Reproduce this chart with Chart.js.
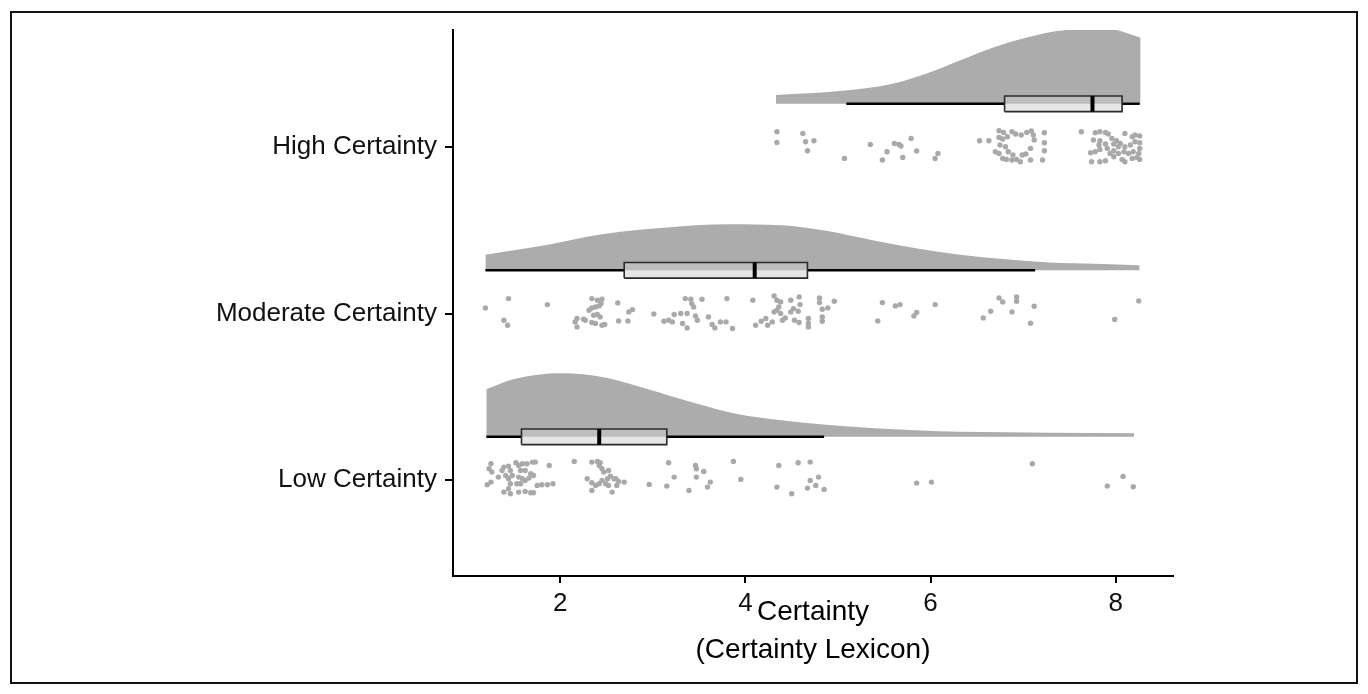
<!DOCTYPE html>
<html>
<head>
<meta charset="utf-8">
<script src="https://cdn.jsdelivr.net/npm/chart.js@4.4.1/dist/chart.umd.min.js"></script>
<style>
    html, body { margin: 0; padding: 0; background: #fff; }
    #wrap { position: relative; width: 1368px; height: 694px; }
    #frame { position: absolute; left: 10px; top: 11px; right: 10px; bottom: 10px; border: 2px solid #111; box-sizing: border-box; pointer-events: none; }
</style>
</head>
<body>
<div id="wrap"><canvas id="chart"></canvas><div id="frame"></div></div>
<script>
// Groups, from bottom to top of the y axis
const categories = ["Low Certainty", "Moderate Certainty", "High Certainty"];
const xTicks = [2, 4, 6, 8];

// Box plot summaries (same order as categories)
const whiskerLow = [1.20, 1.19, 5.09];
const q1 = [1.58, 2.69, 6.80];
const medians = [2.42, 4.10, 7.75];
const q3 = [3.15, 4.67, 8.07];
const whiskerHigh = [4.85, 7.13, 8.26];

// Half violins: x positions and density height above the baseline
const lowViolinX = [1.20, 1.50, 2.01, 2.47, 2.95, 3.43, 3.91, 4.39, 4.87, 5.36, 5.84, 6.32, 6.81, 7.28, 8.20];
const lowViolinH = [0.286, 0.347, 0.381, 0.358, 0.286, 0.206, 0.137, 0.099, 0.072, 0.053, 0.040, 0.030, 0.027, 0.024, 0.022];
const modViolinX = [1.19, 1.74, 2.47, 3.19, 3.82, 4.39, 4.87, 5.36, 5.84, 6.32, 6.81, 7.28, 7.77, 8.26];
const modViolinH = [0.093, 0.141, 0.218, 0.259, 0.276, 0.270, 0.237, 0.182, 0.132, 0.094, 0.066, 0.047, 0.039, 0.030];
const highViolinX = [4.33, 5.05, 5.59, 5.95, 6.31, 6.67, 7.03, 7.39, 7.61, 7.96, 8.11, 8.27];
const highViolinH = [0.052, 0.078, 0.120, 0.180, 0.258, 0.336, 0.396, 0.438, 0.447, 0.447, 0.426, 0.396];

// Raw observations: [value, vertical jitter]
const lowDots = [
    [1.25,0.098],[1.23,0.068],[1.26,0.048],[1.21,-0.028],[1.25,-0.012],[1.33,0.018],[1.37,0.058],[1.39,0.078],[1.44,0.084],[1.46,0.058],
    [1.41,0.028],[1.44,0.008],[1.46,-0.022],[1.44,-0.052],[1.39,-0.072],[1.46,-0.082],[1.52,0.104],[1.55,0.088],[1.59,0.098],[1.64,0.098],
    [1.70,0.108],[1.73,0.108],[1.57,0.058],[1.62,0.058],[1.68,0.038],[1.71,0.028],[1.55,0.018],[1.59,0.008],[1.66,0.012],[1.53,-0.022],
    [1.57,-0.022],[1.62,-0.002],[1.55,-0.072],[1.62,-0.068],[1.68,-0.076],[1.71,-0.076],[1.75,-0.032],[1.80,-0.028],[1.88,0.088],[1.86,-0.028],
    [1.92,-0.022],[1.48,0.028],[2.15,0.112],[2.34,0.108],[2.40,0.112],[2.43,0.104],[2.45,0.068],[2.47,0.048],[2.42,0.088],[2.52,0.058],
    [2.54,0.024],[2.51,0.008],[2.58,0.008],[2.45,-0.002],[2.29,0.008],[2.34,-0.016],[2.38,-0.032],[2.42,-0.022],[2.49,-0.022],[2.52,-0.032],
    [2.63,-0.008],[2.69,-0.012],[2.61,-0.032],[2.56,-0.072],[2.34,-0.062],[2.60,0.008],[2.96,-0.026],[3.15,-0.036],[3.17,0.104],[3.23,0.018],
    [3.39,-0.062],[3.46,0.088],[3.47,0.068],[3.47,0.018],[3.55,0.052],[3.59,-0.042],[3.62,-0.012],[3.87,0.112],[3.95,0.004],[4.36,0.088],
    [4.57,0.104],[4.70,0.108],[4.34,-0.042],[4.50,-0.082],[4.67,-0.048],[4.70,-0.002],[4.76,-0.032],[4.79,0.018],[4.85,-0.056],[5.85,-0.018],
    [6.01,-0.012],[7.10,0.098],[7.91,-0.036],[8.08,0.022],[8.19,-0.040]
];
const modDots = [
    [1.19,0.034],[1.44,0.090],[1.39,-0.040],[1.43,-0.070],[1.86,0.054],[2.34,0.090],[2.40,0.080],[2.45,0.086],[2.44,0.060],[2.34,0.034],
    [2.38,0.040],[2.42,0.046],[2.31,0.020],[2.18,-0.030],[2.16,-0.050],[2.18,-0.080],[2.25,-0.034],[2.27,-0.040],[2.36,-0.010],[2.40,-0.006],
    [2.43,-0.020],[2.34,-0.054],[2.38,-0.060],[2.45,-0.070],[2.48,-0.066],[2.62,0.064],[2.74,0.010],[2.78,0.024],[2.63,-0.044],[2.73,-0.044],
    [3.01,-0.002],[3.12,-0.046],[3.17,-0.040],[3.23,-0.006],[3.21,-0.050],[3.30,0.000],[3.37,0.000],[3.35,0.090],[3.41,0.086],[3.42,0.060],
    [3.44,0.040],[3.53,0.086],[3.46,-0.014],[3.48,-0.040],[3.60,-0.020],[3.64,-0.066],[3.67,-0.086],[3.73,-0.050],[3.79,-0.050],[3.86,-0.090],
    [3.37,-0.086],[3.32,-0.060],[3.80,0.090],[4.08,0.080],[4.11,-0.070],[4.17,-0.046],[4.22,-0.030],[4.24,-0.070],[4.29,-0.050],[4.31,0.106],
    [4.34,0.080],[4.38,0.070],[4.34,0.020],[4.31,0.010],[4.38,0.000],[4.43,-0.026],[4.49,0.080],[4.52,0.030],[4.57,0.014],[4.58,0.100],
    [4.49,0.010],[4.53,-0.040],[4.58,-0.054],[4.68,-0.030],[4.68,-0.060],[4.68,-0.080],[4.59,0.054],[4.40,-0.040],[4.36,0.040],[4.80,0.094],
    [4.80,0.066],[4.83,0.026],[4.83,-0.020],[4.83,-0.046],[4.89,0.034],[4.96,0.074],[5.48,0.066],[5.43,-0.044],[5.62,0.046],[5.67,0.054],
    [5.82,-0.014],[5.85,0.006],[6.05,0.054],[6.57,-0.026],[6.65,0.014],[6.74,0.094],[6.78,0.070],[6.93,0.100],[6.93,0.074],[6.88,0.010],
    [7.12,0.044],[7.08,-0.058],[7.99,-0.036],[8.25,0.076]
];
const highDots = [
    [4.34,0.092],[4.34,0.028],[4.62,0.082],[4.65,0.032],[4.74,0.038],[4.67,-0.022],[5.07,-0.068],[5.35,0.016],[5.61,0.022],[5.66,0.016],
    [5.68,0.006],[5.79,0.052],[5.53,-0.028],[5.85,-0.024],[5.48,-0.078],[5.70,-0.062],[6.08,-0.038],[6.05,-0.068],[6.53,0.038],[6.63,0.038],
    [6.74,0.098],[6.79,0.088],[6.88,0.092],[6.92,0.078],[6.98,0.072],[7.04,0.088],[7.09,0.096],[7.11,0.072],[6.74,0.058],[6.78,0.048],
    [6.83,0.062],[6.81,0.002],[6.75,0.012],[6.70,-0.028],[6.74,-0.038],[6.78,-0.068],[6.84,-0.028],[6.89,-0.048],[6.93,-0.074],[6.97,-0.088],
    [6.99,-0.048],[7.03,-0.042],[7.08,-0.008],[7.12,0.042],[6.82,-0.074],[6.88,-0.078],[7.08,-0.078],[7.23,0.086],[7.23,0.026],[7.23,-0.022],
    [7.21,-0.078],[7.63,0.092],[7.78,0.086],[7.83,0.092],[7.89,0.088],[7.92,0.078],[7.76,0.042],[7.83,0.038],[7.96,0.052],[8.01,0.038],
    [8.10,0.082],[8.21,0.072],[8.26,0.066],[7.82,0.012],[7.89,0.018],[7.98,0.018],[8.05,0.022],[8.10,0.002],[8.16,0.012],[8.21,0.032],
    [8.26,0.026],[7.73,-0.034],[7.78,-0.028],[7.83,-0.014],[7.91,-0.008],[7.98,-0.022],[8.03,-0.038],[8.09,-0.028],[8.14,-0.038],[8.19,-0.028],
    [8.25,-0.038],[8.26,-0.008],[7.74,-0.088],[7.83,-0.088],[7.89,-0.082],[7.98,-0.058],[8.07,-0.074],[8.10,-0.088],[8.18,-0.068],[8.23,-0.062],
    [8.26,-0.074],[8.03,0.002],[7.94,-0.038],[8.18,0.062]
];

const violinX = [lowViolinX, modViolinX, highViolinX];
const violinH = [lowViolinH, modViolinH, highViolinH];
const dots = [lowDots, modDots, highDots];

// Layout of each raincloud relative to its category line
const cloudOffset = 0.26, boxHalf = 0.047;
const fontFamily = "'Liberation Sans', Arial, sans-serif";

const datasets = [];
categories.forEach((name, i) => {
    const y = i + 1, b = y + cloudOffset;

    // Half violin filled down to its baseline
    datasets.push({
        data: violinX[i].map((x, k) => ({ x, y: b + violinH[i][k] })),
        showLine: true, fill: { value: b },
        backgroundColor: "#acacac", borderColor: "rgba(0,0,0,0)", borderWidth: 1,
        pointRadius: 0, cubicInterpolationMode: "monotone", clip: false, order: 5
    });

    // Whiskers from the hinges out
    for (const seg of [[whiskerLow[i], q1[i]], [q3[i], whiskerHigh[i]]]) {
        datasets.push({
            data: seg.map(x => ({ x, y: b })),
            showLine: true, borderColor: "#000", borderWidth: 2.4, pointRadius: 0, order: 4
        });
    }

    // Box
    datasets.push({
        data: [
            { x: q1[i], y: b - boxHalf }, { x: q3[i], y: b - boxHalf },
            { x: q3[i], y: b + boxHalf }, { x: q1[i], y: b + boxHalf },
            { x: q1[i], y: b - boxHalf }
        ],
        showLine: true, fill: "shape",
        backgroundColor: "rgba(205,205,205,0.5)", borderColor: "#2a2a2a", borderWidth: 1.6,
        pointRadius: 0, order: 3
    });

    // Median
    datasets.push({
        data: [{ x: medians[i], y: b - boxHalf }, { x: medians[i], y: b + boxHalf }],
        showLine: true, borderColor: "#000", borderWidth: 4, pointRadius: 0, order: 2
    });

    // Jittered points
    datasets.push({
        data: dots[i].map(([x, j]) => ({ x, y: y + j })),
        backgroundColor: "#a9a9a9", borderWidth: 0, pointRadius: 2.7, order: 1
    });
});

new Chart(document.getElementById("chart"), {
    type: "scatter",
    data: { datasets },
    options: {
        responsive: true,
        maintainAspectRatio: false,
        animation: false,
        events: [],
        layout: { padding: { top: 30, right: 195, left: 0, bottom: 0 } },
        plugins: { legend: { display: false }, tooltip: { enabled: false } },
        scales: {
            x: {
                type: "linear", min: 0.84, max: 8.62,
                afterBuildTicks: axis => { axis.ticks = xTicks.map(v => ({ value: v })); },
                afterFit: scale => { scale.height = 118; },
                grid: { drawOnChartArea: false, drawTicks: true, tickLength: 7, color: "#000", lineWidth: 2 },
                border: { display: true, color: "#000", width: 2 },
                ticks: { color: "#111", padding: 5, font: { family: fontFamily, size: 26 } },
                title: {
                    display: true, text: ["Certainty", "(Certainty Lexicon)"], color: "#000",
                    font: { family: fontFamily, size: 28, lineHeight: 1.36 }, padding: { top: 0, bottom: 25 }
                }
            },
            y: {
                type: "linear", min: 0.424, max: 3.703,
                afterBuildTicks: axis => { axis.ticks = categories.map((c, i) => ({ value: i + 1 })); },
                afterFit: scale => { scale.width = 453; },
                grid: { drawOnChartArea: false, drawTicks: true, tickLength: 8, color: "#000", lineWidth: 2 },
                border: { display: true, color: "#000", width: 2 },
                ticks: {
                    color: "#111", padding: 8, font: { family: fontFamily, size: 26 },
                    callback: v => categories[v - 1]
                }
            }
        }
    }
});
</script>
</body>
</html>
